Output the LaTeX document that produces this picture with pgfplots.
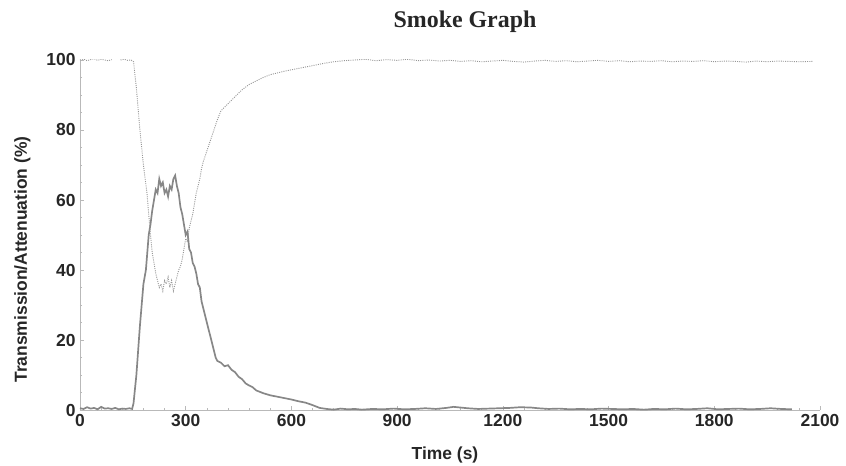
\documentclass[border=0pt]{standalone}
\usepackage{fontspec}
\setmainfont{Liberation Sans}
\newfontfamily\titlefont{Liberation Serif}
\usepackage{pgfplots}
\pgfplotsset{compat=1.18}

\definecolor{axisgray}{RGB}{185,185,185}
\definecolor{attgray}{RGB}{135,135,135}
\definecolor{trgray}{RGB}{150,150,150}

\begin{document}
\begin{tikzpicture}
\path[use as bounding box] (-80bp,-56bp) rectangle (766bp,410bp);
\begin{axis}[
    at={(0,0)}, anchor=south west,
    scale only axis, width=740bp, height=350bp,
    xmin=0, xmax=2100, ymin=0, ymax=100,
    axis lines=left,
    axis line style={-, axisgray, line width=0.8pt},
    xtick={0,300,...,2100}, ytick={0,20,...,100},
    minor x tick num=4, minor y tick num=3,
    tick style={axisgray, line width=0.6pt},
    major tick length=4bp, minor tick length=2.5bp,
    tick align=inside,
    /pgf/number format/assume math mode=true,
    /pgf/number format/1000 sep={},
    tick label style={font=\fontsize{17.5}{19}\selectfont\bfseries, text=black!85},
    xticklabel style={yshift=-1bp},
    yticklabel style={xshift=-1bp},
    xlabel={Time (s)},
    ylabel={Transmission/Attenuation (\%)},
    label style={font=\fontsize{17.5}{19}\selectfont\bfseries, text=black!85},
    xlabel style={at={(axis description cs:0.5,0)}, anchor=center, yshift=-45bp, xshift=-5bp},
    ylabel style={at={(axis description cs:-0.078,0.43)}, anchor=center, rotate=0},
]
% attenuation
\addplot[attgray, line width=1.7pt] coordinates {
(0,0.5) (10,0.3) (20,0.8) (30,0.4) (40,0.6) (50,0.2) (60,0.9) (70,0.4) (80,0.5)
(90,0.3) (100,0.6) (110,0.2) (120,0.4) (130,0.3) (140,0.5) (148,0.3)
(152,2) (160,10) (170,24) (180,36) (187,40) (195,50) (200,53) (205,57)
(210,60) (215,63) (220,62) (225,66) (230,64) (235,65) (240,62) (245,63)
(250,61) (255,64) (260,63) (265,66) (270,67) (275,64) (280,62) (285,58)
(290,56) (295,53) (300,50) (305,51) (310,46) (315,45) (320,42) (325,41)
(330,39) (335,36) (340,35) (345,31) (350,29) (355,27) (360,25) (365,23)
(370,21) (375,19) (380,17) (385,15) (390,14) (400,13.5) (410,12.5)
(420,12.8) (430,11.5) (440,10.8) (450,9.5) (460,8.8) (470,7.6) (480,7)
(490,6.5) (500,5.6) (520,4.8) (540,4.2) (560,3.8) (580,3.4) (600,3)
(620,2.5) (640,2.1) (660,1.4) (680,0.6) (700,0.3) (720,0.1) (740,0.4)
(760,0.2) (780,0.3) (800,0.1) (830,0.3) (860,0.2) (890,0.4) (920,0.2)
(950,0.3) (980,0.5) (1010,0.3) (1040,0.6) (1060,0.9) (1080,0.7) (1100,0.5)
(1130,0.3) (1160,0.4) (1190,0.5) (1220,0.6) (1250,0.8) (1280,0.7) (1300,0.5)
(1330,0.3) (1360,0.4) (1390,0.2) (1420,0.3) (1450,0.2) (1480,0.4) (1510,0.3)
(1540,0.2) (1570,0.3) (1600,0.1) (1630,0.3) (1660,0.2) (1690,0.4) (1720,0.2)
(1750,0.3) (1780,0.5) (1810,0.2) (1840,0.3) (1870,0.4) (1900,0.2) (1930,0.3)
(1960,0.5) (1990,0.3) (2020,0.2)
};
% transmission
\addplot[trgray, line width=0.9pt, dash pattern=on 1pt off 1.2pt] coordinates {
(0,100) (10,100.3) (20,99.8) (30,100.1) (40,100.4) (50,99.9) (60,100.2)
(70,100) (80,99.8) (90,100.1)
};
\addplot[trgray, line width=0.9pt, dash pattern=on 1pt off 1.2pt] coordinates {
(115,100) (125,100.2) (135,99.9) (145,100) (152,99.5) (160,92) (170,80)
(180,70) (190,62) (195,56) (200,50) (205,45) (210,42) (215,39) (220,37)
(225,35) (230,36) (235,34) (240,37) (245,36) (250,38) (255,35) (260,37)
(265,34) (270,36) (275,38) (280,40) (285,41) (290,43) (295,46) (300,49)
(305,48) (310,52) (315,54) (320,56) (325,59) (330,62) (335,64) (340,66)
(345,69) (350,71) (360,74) (370,77) (380,80) (390,83) (400,85.5) (410,86.5)
(420,87.5) (430,88.5) (440,89.5) (450,90.5) (460,91.5) (480,93) (500,94)
(520,95) (540,95.8) (560,96.3) (580,96.8) (600,97.2) (630,97.8) (660,98.4)
(690,99) (720,99.5) (750,99.8) (780,100) (810,100.2) (840,99.8) (870,100.1)
(900,99.9) (930,100.2) (960,99.8) (990,100) (1020,99.7) (1050,99.9)
(1080,99.6) (1110,99.8) (1140,99.5) (1170,99.7) (1200,99.9) (1230,99.6)
(1260,99.4) (1290,99.7) (1320,99.9) (1350,99.6) (1380,99.8) (1410,99.5)
(1440,99.7) (1470,99.9) (1500,99.6) (1530,99.8) (1560,99.5) (1590,99.7)
(1620,99.6) (1650,99.8) (1680,99.5) (1710,99.7) (1740,99.6) (1770,99.8)
(1800,99.5) (1830,99.7) (1860,99.6) (1890,99.4) (1920,99.7) (1950,99.5)
(1980,99.7) (2010,99.6) (2040,99.5) (2080,99.6)
};
\end{axis}
\node[font=\titlefont\fontsize{24}{26}\selectfont\bfseries, text=black!85] at (385bp,388bp) {Smoke Graph};
\end{tikzpicture}
\end{document}
